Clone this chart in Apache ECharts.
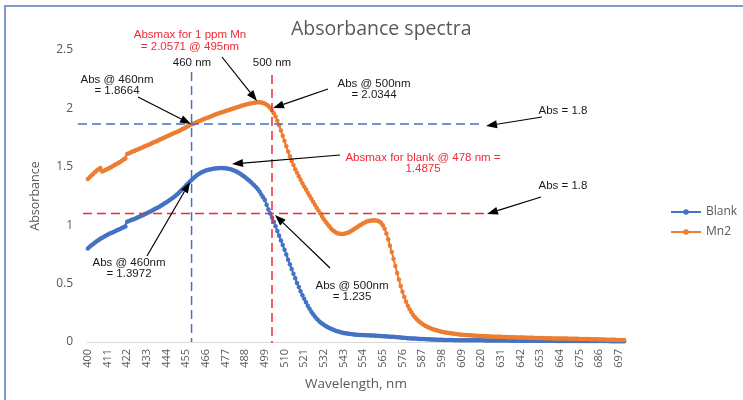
<!DOCTYPE html>
<html>
<head>
<meta charset="utf-8">
<script src="https://cdn.jsdelivr.net/npm/echarts@6/dist/echarts.min.js"></script>
<style>
html,body{margin:0;padding:0;background:#fff;}
#c{width:743px;height:400px;}
</style>
</head>
<body>
<div id="c"></div>
<script>
// Wavelength categories 400..700 nm (1 nm step)
const wavelengths = [];
for (let w = 400; w <= 700; w++) wavelengths.push(String(w));

const seriesNames = ['Blank', 'Mn2'];

const blank = [
0.800,0.815,0.828,0.840,0.852,0.863,0.874,0.884,0.893,0.902,
0.910,0.918,0.926,0.933,0.940,0.947,0.954,0.961,0.968,0.975,
0.982,0.989,1.030,1.036,1.042,1.048,1.054,1.060,1.067,1.074,
1.081,1.088,1.095,1.102,1.110,1.118,1.126,1.134,1.142,1.150,
1.159,1.168,1.177,1.187,1.197,1.207,1.218,1.229,1.240,1.252,
1.266,1.280,1.295,1.310,1.325,1.341,1.357,1.373,1.388,1.402,
1.415,1.427,1.438,1.447,1.455,1.462,1.468,1.473,1.477,1.480,
1.483,1.485,1.487,1.488,1.489,1.489,1.488,1.487,1.485,1.482,
1.478,1.473,1.467,1.460,1.452,1.443,1.433,1.422,1.410,1.397,
1.385,1.372,1.358,1.343,1.327,1.310,1.288,1.262,1.240,1.215,
1.175,1.135,1.100,1.065,1.030,0.990,0.950,0.910,0.870,0.830,
0.790,0.750,0.705,0.665,0.625,0.585,0.545,0.505,0.470,0.435,
0.400,0.370,0.340,0.310,0.285,0.260,0.238,0.218,0.200,0.184,
0.170,0.158,0.147,0.137,0.128,0.120,0.113,0.106,0.100,0.095,
0.090,0.086,0.082,0.078,0.075,0.072,0.070,0.068,0.066,0.064,
0.063,0.062,0.061,0.060,0.059,0.058,0.057,0.057,0.056,0.055,
0.055,0.054,0.053,0.052,0.051,0.050,0.049,0.048,0.047,0.046,
0.045,0.044,0.042,0.041,0.040,0.038,0.037,0.036,0.034,0.033,
0.032,0.031,0.030,0.029,0.028,0.027,0.026,0.026,0.025,0.024,
0.023,0.023,0.022,0.021,0.021,0.020,0.020,0.019,0.019,0.018,
0.018,0.018,0.017,0.017,0.017,0.016,0.016,0.016,0.016,0.015,
0.015,0.015,0.015,0.015,0.015,0.014,0.014,0.014,0.014,0.014,
0.014,0.014,0.013,0.013,0.013,0.013,0.013,0.013,0.013,0.012,
0.012,0.012,0.012,0.012,0.012,0.012,0.012,0.011,0.011,0.011,
0.011,0.011,0.011,0.011,0.011,0.011,0.011,0.011,0.010,0.010,
0.010,0.010,0.010,0.010,0.010,0.010,0.010,0.010,0.010,0.010,
0.010,0.010,0.009,0.009,0.009,0.009,0.009,0.009,0.009,0.009,
0.009,0.009,0.009,0.009,0.009,0.009,0.008,0.008,0.008,0.008,
0.008,0.008,0.008,0.008,0.008,0.008,0.008,0.008,0.008,0.008,
0.008,0.008,0.007,0.007,0.007,0.007,0.007,0.007,0.007,0.007,
0.007
];

const mn2 = [
1.395,1.410,1.425,1.440,1.455,1.468,1.480,1.490,1.460,1.467,
1.474,1.481,1.489,1.497,1.506,1.515,1.524,1.533,1.542,1.551,
1.562,1.572,1.610,1.617,1.623,1.630,1.636,1.643,1.649,1.656,
1.662,1.669,1.675,1.682,1.689,1.696,1.703,1.710,1.717,1.724,
1.731,1.738,1.745,1.752,1.759,1.766,1.773,1.780,1.787,1.794,
1.800,1.807,1.815,1.823,1.831,1.839,1.847,1.855,1.862,1.869,
1.876,1.883,1.890,1.897,1.903,1.909,1.915,1.921,1.927,1.933,
1.939,1.945,1.951,1.957,1.962,1.967,1.972,1.977,1.982,1.987,
1.992,1.997,2.002,2.007,2.012,2.017,2.022,2.027,2.031,2.035,
2.039,2.043,2.046,2.049,2.051,2.052,2.052,2.050,2.046,2.040,
2.032,2.020,2.003,1.982,1.958,1.930,1.895,1.855,1.810,1.765,
1.720,1.675,1.632,1.590,1.550,1.515,1.480,1.450,1.420,1.390,
1.360,1.332,1.305,1.278,1.252,1.226,1.200,1.175,1.150,1.125,
1.100,1.075,1.052,1.030,1.010,0.990,0.972,0.957,0.945,0.936,
0.930,0.926,0.924,0.925,0.928,0.933,0.940,0.948,0.957,0.967,
0.977,0.987,0.997,1.007,1.016,1.024,1.031,1.036,1.039,1.041,
1.042,1.041,1.038,1.032,1.020,1.000,0.970,0.930,0.880,0.825,
0.770,0.710,0.650,0.590,0.535,0.480,0.430,0.385,0.345,0.310,
0.280,0.255,0.232,0.212,0.195,0.180,0.167,0.156,0.146,0.137,
0.129,0.122,0.116,0.110,0.105,0.100,0.096,0.092,0.088,0.085,
0.082,0.079,0.077,0.075,0.073,0.071,0.069,0.067,0.065,0.063,
0.062,0.060,0.059,0.058,0.057,0.056,0.055,0.054,0.053,0.052,
0.051,0.050,0.050,0.049,0.048,0.048,0.047,0.046,0.046,0.045,
0.044,0.044,0.043,0.043,0.042,0.041,0.041,0.040,0.040,0.040,
0.039,0.039,0.038,0.038,0.038,0.037,0.037,0.036,0.036,0.036,
0.035,0.035,0.034,0.034,0.034,0.033,0.033,0.033,0.032,0.032,
0.031,0.031,0.031,0.030,0.030,0.030,0.029,0.029,0.029,0.028,
0.028,0.028,0.027,0.027,0.027,0.026,0.026,0.026,0.025,0.025,
0.025,0.024,0.024,0.023,0.023,0.023,0.022,0.022,0.021,0.021,
0.020,0.020,0.020,0.019,0.019,0.019,0.018,0.018,0.018,0.017,
0.017
];

// Annotation reference values
const hLineBlueValue = 1.8664;
const hLineRedValue = 1.1;
const vLineBlueCat = '458';
const vLineRedCat = '503';

const FONT = '"Open Sans", "Liberation Sans", sans-serif';
const AFONT = '"Liberation Sans", Arial, sans-serif';
const GREY = '#595959';
const BLUE = '#4472c4';
const ORANGE = '#ed7d31';
const RED = '#ee2b36';

const chart = echarts.init(document.getElementById('c'), null, {renderer: 'canvas'});

chart.setOption({
  animation: false,
  backgroundColor: '#ffffff',
  title: {
    text: 'Absorbance spectra',
    left: 286, top: 14,
    textStyle: {fontFamily: FONT, fontSize: 19.5, fontWeight: 'normal', color: GREY}
  },
  legend: {
    orient: 'vertical',
    left: 665, top: 201,
    itemWidth: 30, itemHeight: 7, itemGap: 8,
    data: seriesNames,
    textStyle: {fontFamily: FONT, fontSize: 12, color: GREY}
  },
  grid: {left: 87, right: 118, top: 50, bottom: 58, containLabel: false},
  xAxis: {
    type: 'category',
    data: wavelengths,
    boundaryGap: true,
    name: 'Wavelength, nm',
    nameLocation: 'middle',
    nameGap: 35,
    nameTextStyle: {fontFamily: FONT, fontSize: 13.5, color: GREY},
    axisLine: {lineStyle: {color: '#d9d9d9', width: 1}},
    axisTick: {show: false},
    axisLabel: {interval: 10, rotate: 90, fontFamily: FONT, fontSize: 11, color: GREY, margin: 7}
  },
  yAxis: {
    type: 'value',
    min: 0, max: 2.5, interval: 0.5,
    name: 'Absorbance',
    nameLocation: 'middle',
    nameGap: 45,
    nameTextStyle: {fontFamily: FONT, fontSize: 12.5, color: GREY},
    axisLine: {show: false},
    axisTick: {show: false},
    splitLine: {show: false},
    axisLabel: {fontFamily: FONT, fontSize: 12, color: GREY, margin: 14}
  },
  series: [
    {
      name: seriesNames[0], type: 'line', data: blank,
      symbol: 'circle', symbolSize: 4.5, showAllSymbol: true,
      color: BLUE, lineStyle: {width: 2, color: BLUE}, itemStyle: {color: BLUE}
    },
    {
      name: seriesNames[1], type: 'line', data: mn2,
      symbol: 'circle', symbolSize: 4.5, showAllSymbol: true,
      color: ORANGE, lineStyle: {width: 2, color: ORANGE}, itemStyle: {color: ORANGE}
    }
  ]
});

function arrow(x1, y1, x2, y2) {
  const a = Math.atan2(y2 - y1, x2 - x1);
  const L = 11, W = 4;
  const c = Math.cos(a), s = Math.sin(a);
  const bx = x2 - L * c, by = y2 - L * s;
  return [
    {type: 'line', z: 100, shape: {x1: x1, y1: y1, x2: bx, y2: by}, style: {stroke: '#000', lineWidth: 1.2}},
    {type: 'polygon', z: 100, shape: {points: [[x2, y2], [bx - W * s, by + W * c], [bx + W * s, by - W * c]]}, style: {fill: '#000'}}
  ];
}
function txt(x, y, t, color) {
  return {type: 'text', z: 100, x: x, y: y,
    style: {text: t, fill: color || '#1a1a1a', font: '11.5px ' + AFONT, align: 'center', verticalAlign: 'middle'}};
}
function dash(x1, y1, x2, y2, color) {
  return {type: 'line', z: 90, shape: {x1: x1, y1: y1, x2: x2, y2: y2},
    style: {stroke: color, lineWidth: 1.5, lineDash: [9, 5]}};
}

const yBlue = chart.convertToPixel({yAxisIndex: 0}, hLineBlueValue);
const yRed = chart.convertToPixel({yAxisIndex: 0}, hLineRedValue);
const yZero = chart.convertToPixel({yAxisIndex: 0}, 0);
const xBlue = chart.convertToPixel({xAxisIndex: 0}, vLineBlueCat);
const xRed = chart.convertToPixel({xAxisIndex: 0}, vLineRedCat);

let g = [
  {type: 'rect', z: 0, shape: {x: 5, y: 6, width: 800, height: 500}, style: {fill: 'none', stroke: '#7f9ccb', lineWidth: 2}},
  dash(78, yBlue, 483, yBlue, BLUE),
  dash(83, yRed, 487, yRed, RED),
  dash(xBlue, 72, xBlue, yZero, BLUE),
  dash(xRed, 75, xRed, yZero + 1, RED),
  txt(117, 80, 'Abs @ 460nm'), txt(117, 91, '= 1.8664'),
  txt(190, 35, 'Absmax for 1 ppm Mn', RED), txt(190, 47, '= 2.0571 @ 495nm', RED),
  txt(192, 63, '460 nm'), txt(272, 63, '500 nm'),
  txt(374, 84, 'Abs @ 500nm'), txt(374, 95, '= 2.0344'),
  txt(563, 111, 'Abs = 1.8'),
  txt(423, 158, 'Absmax for blank @ 478 nm =', RED), txt(423, 169, '1.4875', RED),
  txt(563, 186, 'Abs = 1.8'),
  txt(129, 263, 'Abs @ 460nm'), txt(129, 274, '= 1.3972'),
  txt(352, 286, 'Abs @ 500nm'), txt(352, 297, '= 1.235')
];
g = g.concat(arrow(138, 97, 191, 124));
g = g.concat(arrow(222, 57, 257, 101));
g = g.concat(arrow(328, 89, 273, 108));
g = g.concat(arrow(542, 117, 486, 126));
g = g.concat(arrow(340, 155, 232, 164));
g = g.concat(arrow(541, 197, 487, 214));
g = g.concat(arrow(147, 256, 190, 182));
g = g.concat(arrow(330, 268, 275, 215));

chart.setOption({graphic: g});
</script>
</body>
</html>
